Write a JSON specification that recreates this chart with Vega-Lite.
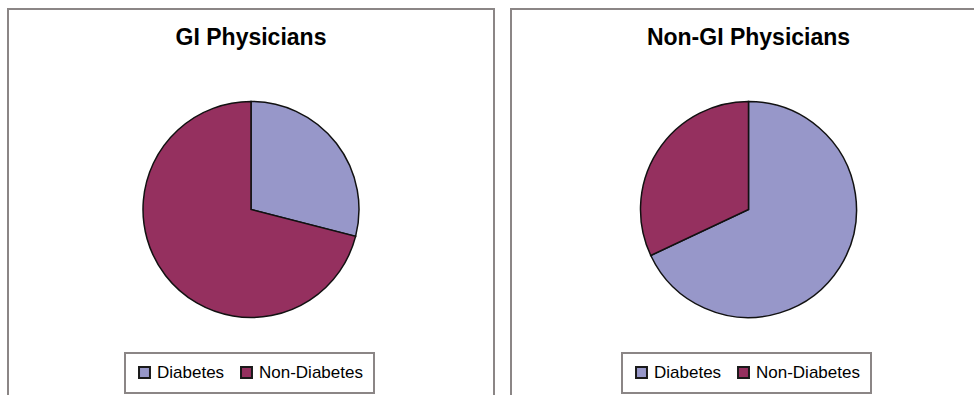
{
  "$schema": "https://vega.github.io/schema/vega-lite/v6.json",
  "background": "white",
  "padding": {"left": 7, "top": 8, "right": 0, "bottom": 0},
  "spacing": 15,
  "config": {
    "view": {"stroke": null},
    "title": {"font": "Liberation Sans", "fontSize": 23, "fontWeight": "bold", "color": "#000000", "offset": -42, "anchor": "middle"},
    "legend": {
      "orient": "none",
      "direction": "horizontal",
      "title": null,
      "labelFont": "Liberation Sans",
      "labelFontSize": 17,
      "labelColor": "#000000",
      "labelOffset": 4,
      "columnPadding": 12,
      "symbolType": "square",
      "symbolSize": 120,
      "symbolStrokeColor": "#1a1a1a",
      "symbolStrokeWidth": 2,
      "strokeColor": "#8b8686",
      "strokeWidth": 2,
      "padding": 11
    }
  },
  "resolve": {"legend": {"color": "independent"}},
  "hconcat": [
    {
      "title": "GI Physicians",
      "width": 486,
      "height": 401,
      "data": {"values": [
        {"group": "Diabetes", "share": 29},
        {"group": "Non-Diabetes", "share": 71}
      ]},
      "layer": [
        {
          "mark": {"type": "rect", "fill": null, "stroke": "#8b8686", "strokeWidth": 2},
          "transform": [{"filter": "datum.group === 'Diabetes'"}],
          "encoding": {}
        },
        {
          "mark": {"type": "arc", "outerRadius": 108, "stroke": "#111111", "strokeWidth": 1.5},
          "encoding": {
            "theta": {"field": "share", "type": "quantitative", "stack": true},
            "color": {
              "field": "group", "type": "nominal",
              "scale": {"domain": ["Diabetes", "Non-Diabetes"], "range": ["#9797c9", "#95305f"]},
              "legend": {"legendX": 117, "legendY": 344}
            }
          }
        }
      ]
    },
    {
      "title": "Non-GI Physicians",
      "width": 475,
      "height": 401,
      "data": {"values": [
        {"group": "Diabetes", "share": 68},
        {"group": "Non-Diabetes", "share": 32}
      ]},
      "layer": [
        {
          "mark": {"type": "rect", "fill": null, "stroke": "#8b8686", "strokeWidth": 2},
          "transform": [{"filter": "datum.group === 'Diabetes'"}],
          "encoding": {}
        },
        {
          "mark": {"type": "arc", "outerRadius": 108, "stroke": "#111111", "strokeWidth": 1.5},
          "encoding": {
            "theta": {"field": "share", "type": "quantitative", "stack": true},
            "color": {
              "field": "group", "type": "nominal",
              "scale": {"domain": ["Diabetes", "Non-Diabetes"], "range": ["#9797c9", "#95305f"]},
              "legend": {"legendX": 111, "legendY": 344}
            }
          }
        }
      ]
    }
  ]
}
